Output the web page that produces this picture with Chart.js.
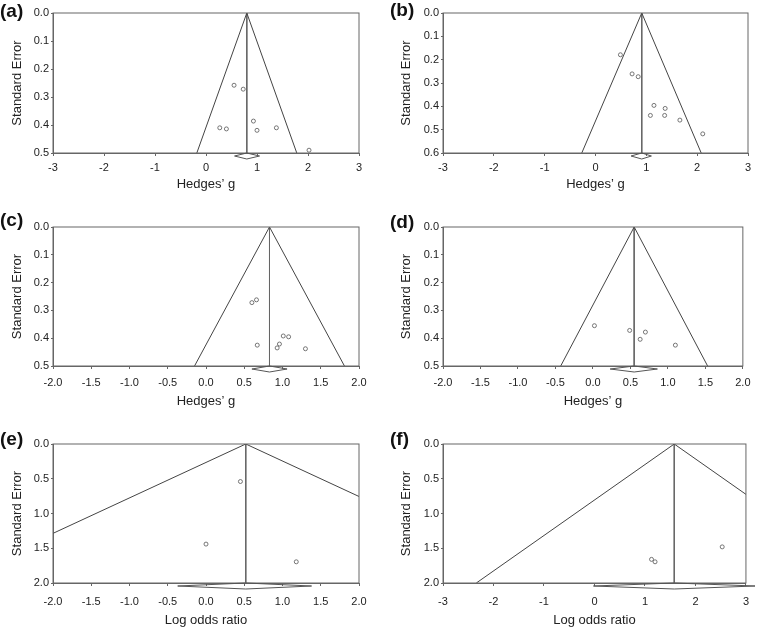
<!DOCTYPE html>
<html lang="en">
<head>
  <meta charset="UTF-8">
  <title>Funnel plots</title>
  <script src="https://cdn.jsdelivr.net/npm/chart.js"></script>
  <style>
    body { margin: 0; background: #fff; }
    #wrap { position: relative; width: 758px; height: 629px; overflow: hidden; }
    canvas { position: absolute; }
    .lbl { position: absolute; font: bold 19px 'Liberation Sans', Arial, sans-serif; line-height: 20px; color: #111; }
  </style>
</head>
<body>
  <div id="wrap">
    <canvas id="pa" width="380" height="210" style="left:0;top:0"></canvas>
    <canvas id="pb" width="378" height="210" style="left:380px;top:0"></canvas>
    <canvas id="pc" width="380" height="210" style="left:0;top:210px"></canvas>
    <canvas id="pd" width="378" height="210" style="left:380px;top:210px"></canvas>
    <canvas id="pe" width="380" height="209" style="left:0;top:420px"></canvas>
    <canvas id="pf" width="378" height="209" style="left:380px;top:420px"></canvas>
    <div class="lbl" style="left:0;top:1px">(a)</div>
    <div class="lbl" style="left:390px;top:0">(b)</div>
    <div class="lbl" style="left:0;top:210px">(c)</div>
    <div class="lbl" style="left:390px;top:212px">(d)</div>
    <div class="lbl" style="left:0;top:429px">(e)</div>
    <div class="lbl" style="left:390px;top:429px">(f)</div>
  </div>

  <script>
    // study effects and standard errors
    const effectA = [0.55, 0.73, 0.27, 0.40, 0.93, 1.00, 1.38, 2.02];
    const seA     = [0.258, 0.272, 0.410, 0.414, 0.386, 0.419, 0.410, 0.490];
    const effectB = [0.49, 0.72, 0.84, 1.15, 1.37, 1.08, 1.36, 1.66, 2.11];
    const seB     = [0.179, 0.261, 0.273, 0.396, 0.409, 0.439, 0.439, 0.459, 0.518];
    const effectC = [0.60, 0.66, 0.67, 1.01, 1.08, 0.96, 0.93, 1.30];
    const seC     = [0.272, 0.262, 0.425, 0.392, 0.395, 0.421, 0.435, 0.438];
    const effectD = [0.02, 0.49, 0.70, 0.63, 1.10];
    const seD     = [0.355, 0.372, 0.378, 0.404, 0.425];
    const effectE = [0.45, 0.00, 1.18];
    const seE     = [0.54, 1.44, 1.695];
    const effectF = [1.13, 1.20, 2.53];
    const seF     = [1.66, 1.695, 1.48];

    // pooled estimate, its interval (diamond) and funnel edges at the max SE
    const pooled     = [0.80, 0.91, 0.83, 0.55, 0.52, 1.58];
    const diamondLo  = [0.56, 0.70, 0.60, 0.23, -0.37, -0.02];
    const diamondHi  = [1.05, 1.10, 1.06, 0.86, 1.38, 3.18];
    const funnelLo   = [-0.18, -0.27, -0.15, -0.43, -3.40, -2.34];
    const funnelHi   = [1.78, 2.08, 1.81, 1.53, 4.44, 5.50];

    // axes
    const seMax   = [0.5, 0.6, 0.5, 0.5, 2.0, 2.0];
    const seStep  = [0.1, 0.1, 0.1, 0.1, 0.5, 0.5];
    const xMin    = [-3, -3, -2, -2, -2, -3];
    const xMax    = [3, 3, 2, 2, 2, 3];
    const xStep   = [1, 1, 0.5, 0.5, 0.5, 1];
    const xTitles = ["Hedges\u2019 g", "Hedges\u2019 g", "Hedges\u2019 g", "Hedges\u2019 g", "Log odds ratio", "Log odds ratio"];

    const FONT = "'Liberation Sans', Arial, sans-serif";

    // frame around the plot + pooled-effect diamond under the axis
    const funnelExtras = {
      id: 'funnelExtras',
      afterDatasetsDraw(chart, args, opts) {
        const { ctx, chartArea: a, scales: { x } } = chart;
        ctx.save();
        ctx.strokeStyle = '#666';
        ctx.lineWidth = 1;
        ctx.strokeRect(a.left, a.top, a.right - a.left, a.bottom - a.top);
        const lo = x.getPixelForValue(opts.lo);
        const hi = x.getPixelForValue(opts.hi);
        const c = x.getPixelForValue(opts.c);
        const b = a.bottom;
        ctx.strokeStyle = '#555';
        ctx.beginPath();
        ctx.moveTo(lo, b + 3);
        ctx.lineTo(c, b);
        ctx.lineTo(hi, b + 3);
        ctx.lineTo(c, b + 6);
        ctx.closePath();
        ctx.stroke();
        ctx.restore();
      }
    };

    function makeFunnel(id, i, eff, se, lay) {
      const pts = eff.map((v, k) => ({ x: v, y: se[k] }));
      const xDec = xStep[i] < 1 ? 1 : 0;
      new Chart(document.getElementById(id), {
        type: 'scatter',
        data: {
          datasets: [
            {
              data: [{ x: funnelLo[i], y: seMax[i] }, { x: pooled[i], y: 0 }, { x: funnelHi[i], y: seMax[i] }],
              showLine: true, borderColor: '#444', borderWidth: 1, pointRadius: 0, tension: 0, fill: false
            },
            {
              data: [{ x: pooled[i], y: 0 }, { x: pooled[i], y: seMax[i] }],
              showLine: true, borderColor: '#666', borderWidth: 1, pointRadius: 0, fill: false
            },
            {
              data: pts,
              pointStyle: 'circle', pointRadius: 2, borderColor: '#555', borderWidth: 0.8,
              backgroundColor: 'rgba(255,255,255,0)'
            }
          ]
        },
        options: {
          responsive: false,
          animation: false,
          devicePixelRatio: 1,
          layout: { padding: { left: lay.pl, right: lay.pr, top: lay.pt, bottom: lay.pb } },
          plugins: {
            legend: { display: false },
            tooltip: { enabled: false },
            funnelExtras: { lo: diamondLo[i], hi: diamondHi[i], c: pooled[i] }
          },
          scales: {
            x: {
              type: 'linear', min: xMin[i], max: xMax[i],
              afterFit: (s) => { s.height = lay.xh; },
              ticks: {
                stepSize: xStep[i], autoSkip: false, maxRotation: 0, padding: lay.xtp,
                color: '#222', font: { family: FONT, size: 11 },
                callback: (v) => v.toFixed(xDec)
              },
              grid: { drawOnChartArea: false, tickLength: 3, color: '#666' },
              border: { color: '#666' },
              title: { display: true, text: xTitles[i], color: '#222', font: { family: FONT, size: 13 }, padding: 0 }
            },
            y: {
              type: 'linear', reverse: true, min: 0, max: seMax[i],
              afterFit: (s) => { s.width = 53; },
              ticks: {
                stepSize: seStep[i], padding: 2,
                color: '#222', font: { family: FONT, size: 11 },
                callback: (v) => v.toFixed(1)
              },
              grid: { drawOnChartArea: false, tickLength: 2, color: '#666' },
              border: { color: '#666' },
              title: { display: true, text: 'Standard Error', color: '#222', font: { family: FONT, size: 13 }, padding: { top: lay.ytp, bottom: 0 } }
            }
          }
        },
        plugins: [funnelExtras]
      });
    }

    const leftCol  = { pl: 0,  pr: 21, ytp: 10 };
    const rightCol = { pl: 10, pr: 10, ytp: 8.5 };
    const row1 = { pt: 13, pb: 17.5, xh: 39.5, xtp: 5 };
    const row2 = { pt: 17, pb: 10.5, xh: 43.5, xtp: 7.5 };
    const row3 = { pt: 24, pb: 0.5,  xh: 45.5, xtp: 9 };

    makeFunnel('pa', 0, effectA, seA, Object.assign({}, leftCol, row1));
    makeFunnel('pb', 1, effectB, seB, Object.assign({}, rightCol, row1));
    makeFunnel('pc', 2, effectC, seC, Object.assign({}, leftCol, row2));
    makeFunnel('pd', 3, effectD, seD, Object.assign({}, rightCol, row2));
    makeFunnel('pe', 4, effectE, seE, Object.assign({}, leftCol, row3));
    makeFunnel('pf', 5, effectF, seF, Object.assign({}, rightCol, row3));
  </script>
</body>
</html>
